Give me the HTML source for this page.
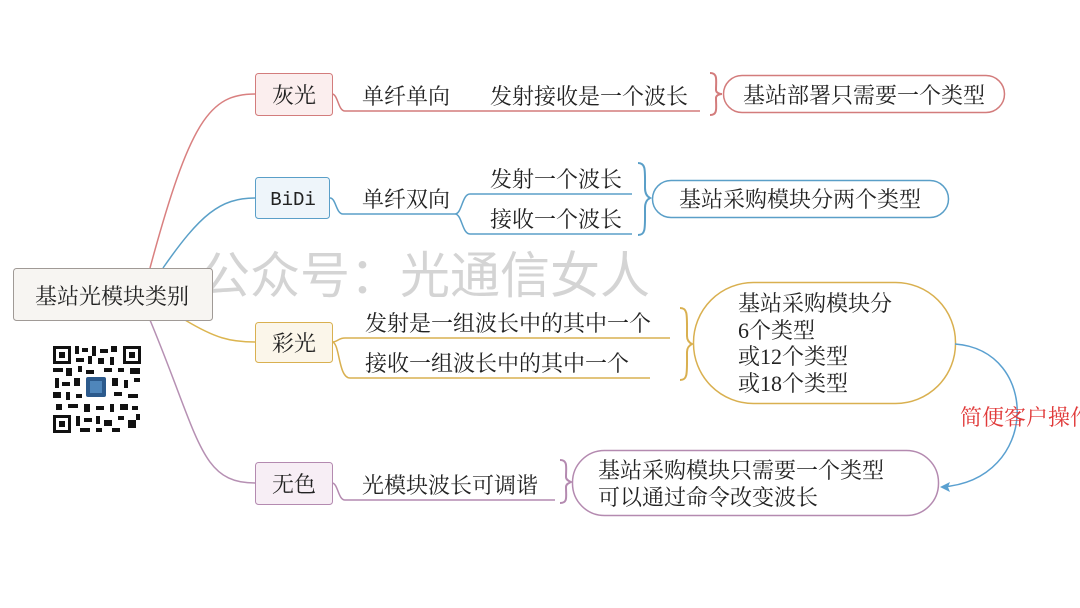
<!DOCTYPE html>
<html><head><meta charset="utf-8"><style>
html,body{margin:0;padding:0;background:#fff;}
svg{display:block}
text{font-family:"Liberation Serif","Noto Serif CJK SC",serif;font-size:22px;fill:#222;}
</style></head><body>
<svg width="1080" height="608" viewBox="0 0 1080 608" xmlns="http://www.w3.org/2000/svg">
<rect width="1080" height="608" fill="#fff"/>
<path d="M150,268 C190,120 210,94 255,94" fill="none" stroke="#d98080" stroke-width="1.5"/>
<path d="M163,268 C200,215 220,198 255,198" fill="none" stroke="#5aa0c8" stroke-width="1.5"/>
<path d="M185,320 C215,338 230,342 255,342" fill="none" stroke="#dcb550" stroke-width="1.5"/>
<path d="M150,320 C200,440 200,483 255,483" fill="none" stroke="#b690b3" stroke-width="1.5"/>

<text x="200" y="293" style="font-family:'Noto Sans CJK SC',sans-serif;font-size:50px;fill:#d4d4d4">公众号：光通信女人</text>

<rect x="13.5" y="268.5" width="199" height="52" rx="3" fill="#f7f5f2" stroke="#a09a96"/>
<text x="112" y="304" text-anchor="middle">基站光模块类别</text>

<rect x="255.5" y="73.5" width="77" height="42" rx="3" fill="#fbeeee" stroke="#d37c7c"/>
<text x="294" y="103" text-anchor="middle">灰光</text>
<path d="M332,94 C338,94 338,111 345,111 L700,111" fill="none" stroke="#d37c7c" stroke-width="1.5"/>
<text x="362" y="104">单纤单向</text>
<text x="490" y="104">发射接收是一个波长</text>
<path d="M710,73 C718,73 716,80 716,90 C716,93 720,94 722,94 C720,94 716,95 716,98 C716,108 718,115 710,115" fill="none" stroke="#d37c7c" stroke-width="2"/>
<rect x="723.5" y="75.5" width="281" height="37" rx="18.5" fill="#fff" stroke="#d37c7c" stroke-width="1.5"/>
<text x="864" y="103" text-anchor="middle">基站部署只需要一个类型</text>

<rect x="255.5" y="177.5" width="74" height="41" rx="3" fill="#eef5fa" stroke="#5a9fc8"/>
<text x="293" y="205" text-anchor="middle" style="font-family:'Liberation Mono',monospace;font-size:19px">BiDi</text>
<path d="M330,198 C336,198 336,214 343,214 L455,214" fill="none" stroke="#5a9fc8" stroke-width="1.5"/>
<path d="M455,214 C462,214 462,194 470,194 L632,194 M455,214 C462,214 462,234 470,234 L632,234" fill="none" stroke="#5a9fc8" stroke-width="1.5"/>
<text x="362" y="207">单纤双向</text>
<text x="490" y="187">发射一个波长</text>
<text x="490" y="227">接收一个波长</text>
<path d="M638,163 C646,163 645,170 645,188 C645,195 648,197 650,198 C648,199 645,201 645,208 C645,228 646,235 638,235" fill="none" stroke="#5a9fc8" stroke-width="2"/>
<rect x="652.5" y="180.5" width="296" height="37" rx="18.5" fill="#fff" stroke="#5a9fc8" stroke-width="1.5"/>
<text x="800" y="207" text-anchor="middle">基站采购模块分两个类型</text>

<rect x="255.5" y="322.5" width="77" height="40" rx="3" fill="#fbf6ea" stroke="#d9b050"/>
<text x="294" y="351" text-anchor="middle">彩光</text>
<path d="M332,342 C338,342 338,338 345,338 L670,338 M332,342 C340,342 338,378 350,378 L650,378" fill="none" stroke="#d9b050" stroke-width="1.5"/>
<text x="365" y="331">发射是一组波长中的其中一个</text>
<text x="365" y="371">接收一组波长中的其中一个</text>
<path d="M680,308 C688,308 687,315 687,336 C687,341 690,343 692,344 C690,345 687,347 687,352 C687,373 688,380 680,380" fill="none" stroke="#d9b050" stroke-width="2"/>
<rect x="693.5" y="282.5" width="262" height="121" rx="60" fill="#fff" stroke="#d9b050" stroke-width="1.5"/>
<text x="738" y="311">基站采购模块分</text>
<text x="738" y="338">6个类型</text>
<text x="738" y="364">或12个类型</text>
<text x="738" y="391">或18个类型</text>

<rect x="255.5" y="462.5" width="77" height="42" rx="3" fill="#f7eef5" stroke="#b48ab0"/>
<text x="294" y="492" text-anchor="middle">无色</text>
<path d="M332,483 C338,483 338,500 345,500 L555,500" fill="none" stroke="#b48ab0" stroke-width="1.5"/>
<text x="362" y="493">光模块波长可调谐</text>
<path d="M560,460 C568,460 566,467 566,477 C566,480 569,481 571,482 C569,483 566,484 566,487 C566,497 568,503 560,503" fill="none" stroke="#b48ab0" stroke-width="2"/>
<rect x="572.5" y="450.5" width="366" height="65" rx="32" fill="#fff" stroke="#b48ab0" stroke-width="1.5"/>
<text x="598" y="478">基站采购模块只需要一个类型</text>
<text x="598" y="505">可以通过命令改变波长</text>

<path d="M955,344 C1040,350 1040,480 942,487" fill="none" stroke="#5aa0d0" stroke-width="1.5"/>
<path d="M940,487 L950,482 L948,487 L950,492 Z" fill="#5aa0d0"/>
<text x="960" y="425" style="fill:#e03a3a">简便客户操作</text>

<g fill="#111">
<rect x="52" y="345" width="89" height="88" fill="#fff"/>
<rect x="53" y="346" width="18" height="18"/><rect x="56" y="349" width="12" height="12" fill="#fff"/><rect x="59" y="352" width="6" height="6"/>
<rect x="123" y="346" width="18" height="18"/><rect x="126" y="349" width="12" height="12" fill="#fff"/><rect x="129" y="352" width="6" height="6"/>
<rect x="53" y="415" width="18" height="18"/><rect x="56" y="418" width="12" height="12" fill="#fff"/><rect x="59" y="421" width="6" height="6"/>
<rect x="75" y="346" width="4" height="8"/><rect x="82" y="348" width="6" height="4"/><rect x="92" y="346" width="4" height="10"/><rect x="100" y="349" width="8" height="4"/><rect x="111" y="346" width="6" height="6"/>
<rect x="76" y="358" width="8" height="4"/><rect x="88" y="356" width="4" height="8"/><rect x="98" y="358" width="6" height="6"/><rect x="110" y="357" width="4" height="8"/>
<rect x="53" y="368" width="10" height="4"/><rect x="66" y="368" width="6" height="8"/><rect x="78" y="366" width="4" height="6"/><rect x="86" y="370" width="8" height="4"/><rect x="104" y="368" width="8" height="4"/><rect x="118" y="368" width="6" height="4"/><rect x="130" y="368" width="10" height="6"/>
<rect x="55" y="378" width="4" height="10"/><rect x="62" y="382" width="8" height="4"/><rect x="74" y="378" width="6" height="8"/><rect x="112" y="378" width="6" height="8"/><rect x="124" y="380" width="4" height="8"/><rect x="134" y="378" width="6" height="4"/>
<rect x="53" y="392" width="8" height="6"/><rect x="66" y="392" width="4" height="8"/><rect x="76" y="394" width="6" height="4"/><rect x="114" y="392" width="8" height="4"/><rect x="128" y="394" width="10" height="4"/>
<rect x="56" y="404" width="6" height="6"/><rect x="68" y="404" width="10" height="4"/><rect x="84" y="404" width="6" height="8"/><rect x="96" y="406" width="8" height="4"/><rect x="110" y="404" width="4" height="8"/><rect x="120" y="404" width="8" height="6"/><rect x="132" y="406" width="6" height="4"/>
<rect x="76" y="416" width="4" height="10"/><rect x="84" y="418" width="8" height="4"/><rect x="96" y="416" width="4" height="8"/><rect x="104" y="420" width="8" height="6"/><rect x="118" y="416" width="6" height="4"/><rect x="128" y="420" width="8" height="8"/>
<rect x="80" y="428" width="10" height="4"/><rect x="96" y="428" width="6" height="4"/><rect x="112" y="428" width="8" height="4"/><rect x="136" y="414" width="4" height="6"/>
<rect x="86" y="377" width="20" height="20" rx="2" fill="#2c5a8c"/>
<rect x="90" y="381" width="12" height="12" fill="#4f86bb"/>
</g>
</svg>
</body></html>
